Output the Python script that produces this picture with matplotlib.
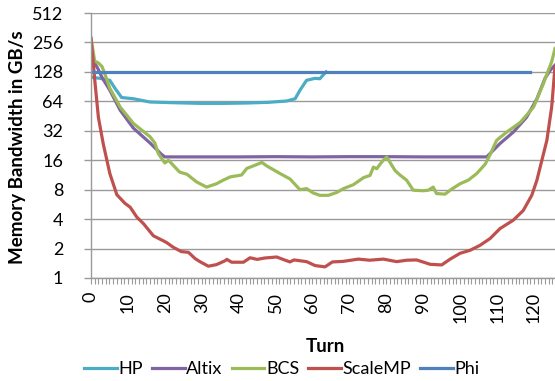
import matplotlib
matplotlib.use("Agg")
import matplotlib.pyplot as plt
from matplotlib.ticker import FixedLocator, MultipleLocator, NullFormatter

plt.rcParams['font.family'] = ['Lato', 'DejaVu Sans']

# (turn, GB/s)
hp_turn = [0, 2.4, 5.1, 6.5, 8.3, 11.5, 16, 22, 29.5, 36, 42, 48, 53, 55.3, 56.6, 58.4, 60.7, 62, 62.9, 63.7]
hp_bw = [113, 110, 105, 87, 70, 68, 63, 62, 61, 61, 61.5, 62.5, 64.5, 68, 83, 105, 110, 109, 119, 128]

altix_turn = [0, 1, 2, 3, 5.1, 7.9, 11.5, 16, 19, 20, 30, 40, 50, 60, 70, 80, 90, 100, 107.2,
              110.8, 114.4, 118, 120.8, 123, 124.4, 125.7]
altix_bw = [170, 158, 135, 112, 83, 52, 34, 24, 18.5, 17.3, 17.3, 17.3, 17.4, 17.3, 17.4, 17.4, 17.3, 17.3, 17.3,
            23.7, 31, 44, 68, 110, 133, 150]

bcs_turn = [0, 1, 2, 3, 4, 5.1, 7.9, 11.5, 16, 17.3, 18.2, 20, 21, 24, 26, 28.6, 31.3, 34, 35.8, 37.7,
            40.8, 42.2, 44.4, 46.3, 47.6, 51.2, 53.9, 56.6, 58.4, 60.2, 62, 64.3, 66.6, 68.4, 71.1, 73.8,
            75.6, 76.5, 77.4, 78.8, 80.1, 82.4, 83.7, 85.5, 87.3, 90, 91.4, 92.7, 93.6, 95.9, 97.7, 100,
            102.2, 104.5, 106.8, 108.1, 109.9, 112.6, 116.3, 119.9, 122.6, 123.9, 124.8, 125.7]
bcs_bw = [285, 165, 158, 145, 115, 87, 56, 38, 27.8, 24, 18.8, 15, 16, 12.1, 11.5, 9.6, 8.5, 9.2, 10, 10.8,
          11.3, 13.2, 14.2, 15.2, 14, 11.7, 10.3, 8, 8.2, 7.4, 7.0, 7.0, 7.5, 8.2, 9.0, 10.6,
          11.2, 13.6, 13.1, 15.4, 17.3, 12.5, 11.3, 10, 7.9, 7.8, 7.9, 8.5, 7.3, 7.2, 8.1, 9.2,
          10, 11.7, 14.6, 18.2, 25.6, 31, 39, 56, 98, 133, 162, 222]

smp_turn = [0, 1.1, 2, 3.3, 5.1, 7, 9.2, 10.6, 12.4, 14.2, 16.9, 19.6, 20.5, 22.3, 24.5, 26.4, 28.2, 29.5,
            31.8, 34, 36.3, 36.8, 38.1, 41.3, 43.1, 45, 47, 50.3, 52, 53.9, 55, 58.4, 60.7, 63.4, 65.4,
            68.4, 72.4, 75.5, 79.2, 82.8, 85.5, 88.2, 91.9, 95, 97.3, 100, 102.7, 105.4, 108.1, 110.8,
            114.4, 117.1, 119.4, 120.8, 121.7, 123.5, 124.8, 125.7]
smp_bw = [282, 98, 44, 23.7, 11.7, 7.1, 5.8, 5.3, 4.2, 3.6, 2.7, 2.4, 2.3, 2.06, 1.86, 1.83, 1.58, 1.47,
          1.32, 1.37, 1.5, 1.55, 1.45, 1.45, 1.61, 1.55, 1.6, 1.64, 1.55, 1.46, 1.53, 1.47, 1.34, 1.3, 1.46,
          1.48, 1.56, 1.52, 1.56, 1.47, 1.52, 1.53, 1.38, 1.36, 1.56, 1.79, 1.92, 2.16, 2.53, 3.2,
          3.9, 4.9, 7, 10, 13.7, 25.6, 56, 144]

phi_turn = [0, 119]
phi_bw = [128, 128]

yticks = [1, 2, 4, 8, 16, 32, 64, 128, 256, 512]
xticks = list(range(0, 121, 10))

fig = plt.figure(figsize=(5.55, 3.81), dpi=100)
ax = fig.add_axes([91 / 555, 1 - 278 / 381, 1 - 91 / 555, (278 - 13) / 381])

lw = 2.3
ax.plot(hp_turn, hp_bw, color='#4BACC6', lw=lw, label='HP')
ax.plot(altix_turn, altix_bw, color='#8064A2', lw=lw, label='Altix')
ax.plot(bcs_turn, bcs_bw, color='#9BBB59', lw=lw, label='BCS')
ax.plot(smp_turn, smp_bw, color='#C0504D', lw=lw, label='ScaleMP')
ax.plot(phi_turn, phi_bw, color='#4F81BD', lw=lw, label='Phi')

ax.set_yscale('log', base=2)
ax.set_ylim(1, 512)
ax.yaxis.set_major_locator(FixedLocator(yticks))
ax.set_yticklabels([str(v) for v in yticks])
ax.yaxis.set_minor_formatter(NullFormatter())
ax.yaxis.set_minor_locator(FixedLocator([]))

ax.set_xlim(0, 125.7)
ax.set_xticks(xticks)
ax.set_xticklabels([str(v) for v in xticks], rotation=90)
ax.xaxis.set_minor_locator(MultipleLocator(1))

ax.grid(axis='y', color='#9a9a9a', lw=1)
ax.set_axisbelow(True)
for s in ['top', 'right']:
    ax.spines[s].set_visible(False)
for s in ['left', 'bottom']:
    ax.spines[s].set_color('#9a9a9a')
    ax.spines[s].set_linewidth(1)

ax.tick_params(axis='y', length=5, width=1, color='#9a9a9a', pad=15, labelsize=13)
ax.tick_params(axis='x', which='both', length=4, width=0.8, color='#9a9a9a', pad=6, labelsize=13)

fig.text(18 / 555, 1 - 147 / 381, 'Memory Bandwidth in GB/s', rotation=90, fontsize=13.5,
         fontweight='bold', ha='center', va='center')
fig.text(325 / 555, 1 - 347 / 381, 'Turn', fontsize=13.5, fontweight='bold', ha='center', va='center')

fig.legend(loc='center', bbox_to_anchor=(282 / 555, 1 - 369 / 381), ncol=5, frameon=False,
           fontsize=13, handlelength=1.8, handletextpad=0.1, columnspacing=0.5, borderpad=0)

fig.savefig('out.png', dpi=100)
